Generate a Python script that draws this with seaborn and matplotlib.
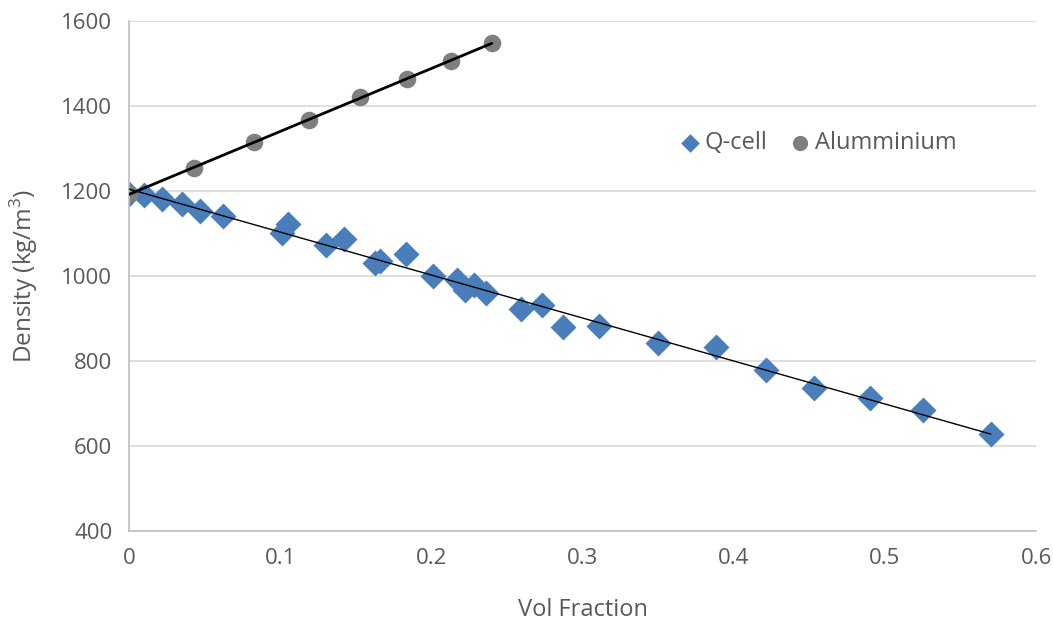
import matplotlib
matplotlib.use('Agg')
import matplotlib.pyplot as plt
import seaborn as sns
import pandas as pd

# Q-cell series
qcell_frac = [0.000, 0.010, 0.022, 0.035, 0.047, 0.062, 0.101, 0.105, 0.130, 0.142,
              0.163, 0.166, 0.183, 0.201, 0.217, 0.222, 0.228, 0.236, 0.259, 0.273,
              0.287, 0.311, 0.350, 0.388, 0.421, 0.453, 0.490, 0.525, 0.570]
qcell_density = [1193, 1190, 1181, 1169, 1153, 1141, 1102, 1122, 1073, 1087,
                 1031, 1035, 1052, 1000, 990, 967, 979, 960, 922, 932,
                 880, 882, 842, 833, 779, 736, 713, 685, 628]

# Alumminium series
al_frac = [0.000, 0.043, 0.083, 0.119, 0.153, 0.184, 0.213, 0.240]
al_density = [1193, 1254, 1315, 1367, 1421, 1464, 1506, 1548]

qdf = pd.DataFrame({'frac': qcell_frac, 'density': qcell_density})
adf = pd.DataFrame({'frac': al_frac, 'density': al_density})

blue = '#4A7EBB'
grey = '#7F7F7F'
text_col = '#595959'

sns.set_style('white')
plt.rcParams['font.family'] = ['Open Sans', 'DejaVu Sans']
plt.rcParams['mathtext.fontset'] = 'custom'
plt.rcParams['mathtext.rm'] = 'Open Sans'

fig = plt.figure(figsize=(10.53, 6.24), dpi=100)
ax = fig.add_axes([0.1225, 0.149, 0.8615, 0.8175])

# trendlines (linear fits)
sns.regplot(data=qdf, x='frac', y='density', scatter=False, ci=None, ax=ax,
            line_kws={'color': 'black', 'lw': 1.0, 'zorder': 3})
sns.regplot(data=adf, x='frac', y='density', scatter=False, ci=None, ax=ax,
            line_kws={'color': 'black', 'lw': 2.0, 'zorder': 3})

sns.scatterplot(data=qdf, x='frac', y='density', marker='D', s=175, color=blue,
                edgecolor=blue, linewidth=0, ax=ax, label='Q-cell', zorder=2)
sns.scatterplot(data=adf, x='frac', y='density', marker='o', s=160, color=grey,
                edgecolor=grey, linewidth=0, ax=ax, label='Alumminium', zorder=2)

ax.set_xlim(0, 0.6)
ax.set_ylim(400, 1600)
ax.set_xticks([0, 0.1, 0.2, 0.3, 0.4, 0.5, 0.6])
ax.set_xticklabels(['0', '0.1', '0.2', '0.3', '0.4', '0.5', '0.6'])
ax.set_yticks(range(400, 1601, 200))
ax.yaxis.grid(True, color='#D9D9D9', lw=1.2)
ax.set_axisbelow(True)
for s in ['top', 'right']:
    ax.spines[s].set_visible(False)
for s in ['left', 'bottom']:
    ax.spines[s].set_color('#BFBFBF')
    ax.spines[s].set_linewidth(1.2)
ax.tick_params(length=0, labelsize=16, colors=text_col)
ax.tick_params(axis='y', pad=12)
ax.tick_params(axis='x', pad=12)

ax.set_xlabel('Vol Fraction', fontsize=17, color=text_col, labelpad=21)
ax.set_ylabel(r'Density (kg/m$^\mathregular{3}$)', fontsize=17.5, color=text_col, labelpad=15)

leg = ax.legend(loc='center', bbox_to_anchor=(0.755, 0.761), ncol=2, frameon=False,
                fontsize=17, handletextpad=-0.2, columnspacing=0.6, handlelength=1.6)
leg.legend_handles[0].set_sizes([90])
leg.legend_handles[1].set_sizes([120])
for t in leg.get_texts():
    t.set_color(text_col)

fig.savefig('out.png', dpi=100)
